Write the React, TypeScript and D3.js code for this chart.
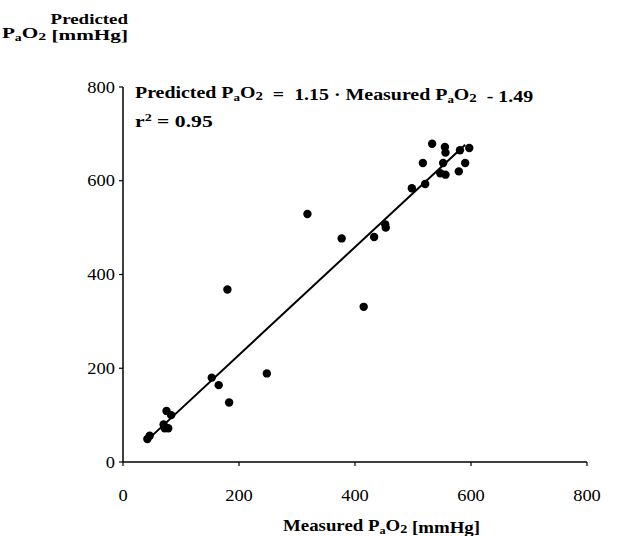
import React, { useEffect, useRef, useState } from "react";
import * as d3 from "d3";

// measured vs predicted PaO2 (mmHg)
const measured = [
  42, 46, 75, 83, 70, 72, 78,
  153, 165, 183, 248, 180,
  318, 377, 433, 452, 453, 415,
  533, 555, 556, 581, 597, 517, 552, 590, 547, 556, 579, 521, 498,
];
const predicted = [
  49, 56, 109, 100, 80, 72, 72,
  180, 164, 127, 189, 368,
  529, 477, 480, 507, 500, 331,
  679, 672, 660, 665, 670, 638, 638, 638, 616, 613, 620, 593, 584,
];
const xTicks = [0, 200, 400, 600, 800];
const yTicks = [0, 200, 400, 600, 800];
const slope = 1.15;
const intercept = -1.49;
const fitRange = [40, 590];

const W = 618;
const H = 536;
const FONT = "'Liberation Serif', 'Times New Roman', serif";

// text stretched horizontally to a given width (the scan is wider than tall)
function FitText({ x, y, width, anchor = "start", size, bold = false, children }: any) {
  const ref = useRef<SVGTextElement>(null);
  const [sx, setSx] = useState(1);
  useEffect(() => {
    const measure = () => {
      if (!ref.current) return;
      const w = ref.current.getBBox().width;
      if (w > 0) setSx(width / w);
    };
    measure();
    if ((document as any).fonts) (document as any).fonts.ready.then(measure);
  }, [width]);
  return (
    <g transform={`translate(${x},${y}) scale(${sx},1)`}>
      <text
        ref={ref}
        textAnchor={anchor}
        fontSize={size}
        fontWeight={bold ? "bold" : "normal"}
        fontFamily={FONT}
        style={{ whiteSpace: "pre" }}
        fill="#000"
      >
        {children}
      </text>
    </g>
  );
}

const PaO2 = () => (
  <>
    <tspan>P</tspan>
    <tspan fontSize="65%" dy={3}>a</tspan>
    <tspan dy={-3}>O</tspan>
    <tspan fontSize="75%" dy={2}>2</tspan>
    <tspan dy={-2}></tspan>
  </>
);

export default function App() {
  const x = d3.scaleLinear().domain([0, 800]).range([123, 587]);
  const y = d3.scaleLinear().domain([0, 800]).range([462, 87]);

  const fitLine = d3
    .line<number>()
    .x((d) => x(d))
    .y((d) => y(slope * d + intercept))(fitRange);

  const pts = measured.map((m, i) => ({ m, p: predicted[i] }));

  return (
    <svg
      width={W}
      height={H}
      style={{ position: "absolute", left: 0, top: 0, background: "#fff" }}
    >
      {/* axes */}
      <line x1={x(0)} x2={x(800)} y1={y(0)} y2={y(0)} stroke="#000" strokeWidth={1.5} />
      <line x1={x(0)} x2={x(0)} y1={y(0)} y2={y(800)} stroke="#000" strokeWidth={1.5} />
      {xTicks.map((t) => (
        <g key={"x" + t}>
          <line x1={x(t)} x2={x(t)} y1={y(0)} y2={y(0) + 4} stroke="#000" strokeWidth={1.2} />
          <g transform={`translate(${x(t)},501) scale(1.12,1)`}>
            <text textAnchor="middle" fontSize={16.5} fontFamily={FONT}>
              {t}
            </text>
          </g>
        </g>
      ))}
      {yTicks.map((t) => (
        <g key={"y" + t}>
          <line x1={x(0) - 4} x2={x(0)} y1={y(t)} y2={y(t)} stroke="#000" strokeWidth={1.2} />
          <g transform={`translate(115,${y(t) + 5.5}) scale(1.12,1)`}>
            <text textAnchor="end" fontSize={16.5} fontFamily={FONT}>
              {t}
            </text>
          </g>
        </g>
      ))}

      {/* regression line */}
      <path d={fitLine || ""} fill="none" stroke="#000" strokeWidth={2} />

      {/* points */}
      {pts.map((d, i) => (
        <circle key={i} cx={x(d.m)} cy={y(d.p)} r={4.2} fill="#000" />
      ))}

      {/* labels */}
      <FitText x={128} y={23.5} width={78} anchor="end" size={15} bold>
        <tspan>Predicted</tspan>
      </FitText>
      <FitText x={128} y={37.5} width={126} anchor="end" size={15} bold>
        <PaO2 />
        <tspan> [mmHg]</tspan>
      </FitText>
      <FitText x={135} y={98} width={398} size={17} bold>
        <tspan>Predicted </tspan>
        <PaO2 />
        <tspan>{"  =  1.15 · Measured "}</tspan>
        <PaO2 />
        <tspan>{"  - 1.49"}</tspan>
      </FitText>
      <FitText x={135} y={127} width={78} size={17} bold>
        <tspan>r</tspan>
        <tspan fontSize="65%" dy={-6}>2</tspan>
        <tspan dy={6}>{" = 0.95"}</tspan>
      </FitText>
      <FitText x={381.5} y={530.5} width={197} anchor="middle" size={17} bold>
        <tspan>Measured </tspan>
        <PaO2 />
        <tspan> [mmHg]</tspan>
      </FitText>
    </svg>
  );
}
